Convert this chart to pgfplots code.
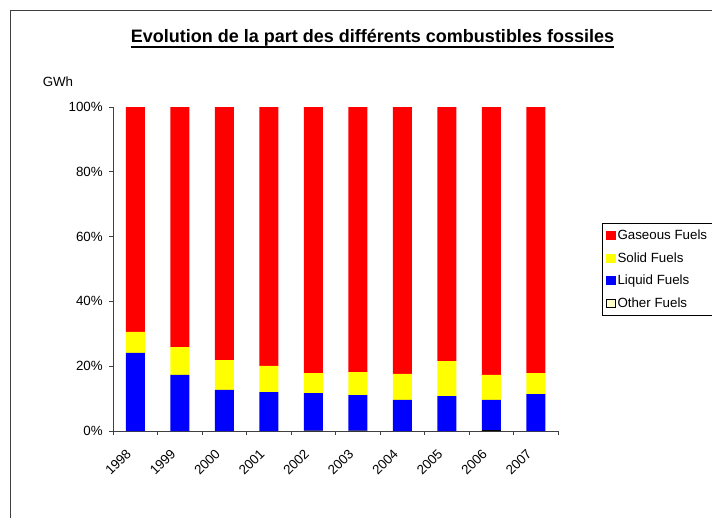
\documentclass[border=0pt]{standalone}
\usepackage{fontspec}
\setmainfont{Liberation Sans}
\usepackage{pgfplots}
\pgfplotsset{compat=1.18}

\definecolor{gasred}{RGB}{255,0,0}
\definecolor{solidyellow}{RGB}{255,255,0}
\definecolor{liquidblue}{RGB}{0,0,255}
\definecolor{otherfill}{RGB}{255,255,204}
\definecolor{axisgray}{RGB}{64,64,64}

% Shares (%) per year: Other, Liquid, Solid, Gaseous
\pgfplotstableread{
idx year other liquid solid gaseous
0 1998 0    24.1  6.5  69.4
1 1999 0    17.3  8.6  74.1
2 2000 0    12.7  9.2  78.1
3 2001 0    12.0  8.1  79.9
4 2002 0.15 11.55 6.2  82.1
5 2003 0.15 10.95 7.1  81.8
6 2004 0    9.6   8.0  82.4
7 2005 0    10.8  10.8 78.4
8 2006 0.3  9.3   7.7  82.7
9 2007 0    11.4  6.5  82.1
}\shares

\begin{document}
\begin{tikzpicture}
\path[use as bounding box] (0,0) rectangle (534pt,-387.75pt);
\clip (0,0) rectangle (534pt,-387.75pt);

\begin{scope}[x=0.75pt,y=-0.75pt]
  % chart frame
  \draw[line width=1.1pt, color=axisgray] (10.5,10.5) rectangle (760,560);
  % title
  \node[anchor=base, inner sep=0pt, font=\fontsize{13.5}{16}\selectfont\bfseries] (title) at (372.5,43) {Evolution de la part des différents combustibles fossiles};
  \draw[line width=1.5pt] ([yshift=-2.9pt]title.base west) -- ([yshift=-2.9pt]title.base east);
  % unit
  \node[anchor=base west, inner sep=0pt, font=\fontsize{10}{12}\selectfont] at (42.5,86.7) {GWh};
\end{scope}

\begin{axis}[
  at={(84.75pt,-323.25pt)}, anchor=south west,
  scale only axis, width=333.75pt, height=243pt,
  ybar stacked, bar width=14.25pt,
  xmin=-0.5, xmax=9.5, ymin=0, ymax=100,
  axis x line*=bottom, axis y line*=left,
  axis line style={-, color=axisgray, line width=0.75pt},
  tick align=outside,
  xtick={0,...,9},
  xticklabels={1998,1999,2000,2001,2002,2003,2004,2005,2006,2007},
  major x tick style={draw=none},
  minor xtick={-0.5,0.5,...,9.5},
  minor tick length=3pt, major tick length=3pt,
  every tick/.style={color=axisgray, line width=0.75pt},
  ytick={0,20,40,60,80,100},
  yticklabels={0\%,20\%,40\%,60\%,80\%,100\%},
  tick label style={font=\fontsize{10}{12}\selectfont},
  /pgf/number format/assume math mode=true,
  xticklabel style={rotate=45, anchor=east, inner sep=0pt, xshift=-12.1pt, yshift=-5.2pt},
  yticklabel style={inner sep=0pt, xshift=-4.5pt},
  legend style={at={(1.0989,0.642)}, anchor=north west, draw=black, line width=0.6pt,
    font=\fontsize{10}{12}\selectfont, row sep=5.1pt, inner xsep=3pt, inner ysep=3.5pt,
    nodes={inner sep=1.5pt}},
  legend cell align=left,
  reverse legend,
  legend image code/.code={\fill[#1] (0pt,-3.4pt) rectangle (6.8pt,3.4pt);},
]
\addplot[fill=black, draw=none,
  legend image code/.code={\draw[fill=otherfill, draw=black, line width=0.6pt] (0.3pt,-3.1pt) rectangle (6.5pt,3.1pt);}]
  table[x=idx, y=other] {\shares};
\addplot[fill=liquidblue, draw=none] table[x=idx, y=liquid] {\shares};
\addplot[fill=solidyellow, draw=none] table[x=idx, y=solid] {\shares};
\addplot[fill=gasred, draw=none] table[x=idx, y=gaseous] {\shares};
\legend{Other Fuels, Liquid Fuels, Solid Fuels, Gaseous Fuels}
\end{axis}
\end{tikzpicture}
\end{document}
